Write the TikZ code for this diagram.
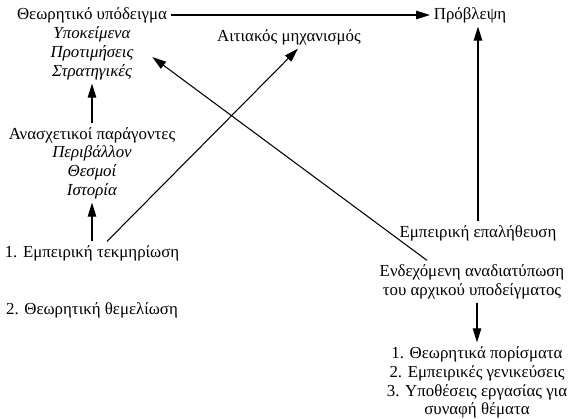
\documentclass[tikz,border=0pt]{standalone}
\usepackage{fontspec}
\setmainfont{Liberation Serif}
\usetikzlibrary{positioning,arrows.meta,calc}

\begin{document}
\begin{tikzpicture}[
  font=\fontsize{9.6}{11.5}\selectfont,
  lbl/.style={inner sep=2pt, anchor=center},
  itl/.style={lbl, font=\fontsize{9.6}{11.5}\selectfont\itshape},
  flow/.style={-{Triangle[length=2.8mm,width=1.7mm]}, line width=0.6pt, draw=black},
]
\useasboundingbox (0,0) rectangle (11.46,-8.38);

% =========================== LEFT COLUMN ===========================
\node[lbl] (theo)  at (1.84,-0.30){Θεωρητικό υπόδειγμα};
\node[itl] (ypo)   at (1.84,-0.68){Υποκείμενα};
\node[itl] (prot)  at (1.84,-1.06){Προτιμήσεις};
\node[itl] (strat) at (1.84,-1.44){Στρατηγικές};

\node[lbl] (anas)  at (1.84,-2.70){Ανασχετικοί παράγοντες};
\node[itl] (periv) at (1.84,-3.07){Περιβάλλον};
\node[itl] (thesm) at (1.84,-3.44){Θεσμοί};
\node[itl] (istor) at (1.84,-3.82){Ιστορία};

\node[lbl] (tekm)  at (1.84,-5.06){1. Εμπειρική τεκμηρίωση};
\node[lbl] (them)  at (1.84,-6.20){2. Θεωρητική θεμελίωση};

% =========================== TOP ===========================
\node[lbl] (aitia) at (5.78,-0.74){Αιτιακός μηχανισμός};
\node[lbl] (provl) at (9.40,-0.30){Πρόβλεψη};

% =========================== RIGHT COLUMN ===========================
\node[lbl] (epal)  at (9.56,-4.66){Εμπειρική επαλήθευση};
\node[lbl] (endex) at (9.44,-5.44){Ενδεχόμενη αναδιατύπωση};
\node[lbl] (arxik) at (9.44,-5.82){του αρχικού υποδείγματος};

\node[lbl] (por1)  at (9.54,-7.08){1. Θεωρητικά πορίσματα};
\node[lbl] (por2)  at (9.54,-7.46){2. Εμπειρικές γενικεύσεις};
\node[lbl] (por3)  at (9.54,-7.84){3. Υποθέσεις εργασίας για};
\node[lbl] (por4)  at (9.54,-8.20){συναφή θέματα};

% =========================== ARROWS ===========================
\draw[flow] (theo.east) -- (provl.west);
\draw[flow] (anas.north) -- (strat.south);
\draw[flow] (tekm.north) -- (istor.south);
\draw[flow] ($(tekm.north)+(0.3,0)$) -- ($(aitia.south)+(0.18,0)$);
\draw[flow] ($(endex.north)+(-0.9,0)$) -- ($(prot.east)+(0.3,-0.08)$);
\draw[flow] (epal.north) -- (epal.north |- provl.south);
\draw[flow] (arxik.south -| por1.north) -- (por1.north);

\end{tikzpicture}
\end{document}
